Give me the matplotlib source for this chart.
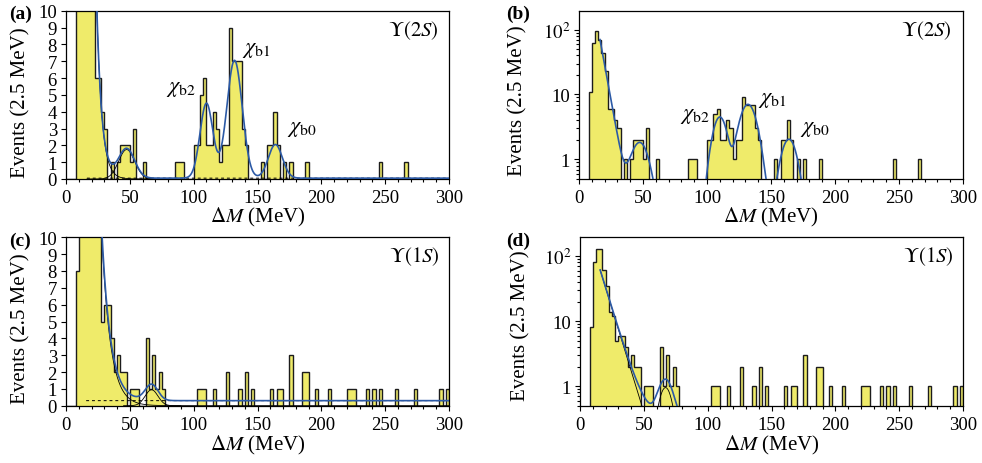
import numpy as np
import matplotlib
matplotlib.use('Agg')
import matplotlib.pyplot as plt
from matplotlib.ticker import MultipleLocator, FixedLocator, LogLocator, NullFormatter

plt.rcParams['font.family'] = 'serif'
plt.rcParams['font.serif'] = ['Liberation Serif', 'DejaVu Serif']
plt.rcParams['mathtext.fontset'] = 'stix'

# ---------------- data ----------------
BIN = 2.5
X_MAX = 300

# Upsilon(2S): left edges of non-empty bins and counts
u2_lo = [7.5, 10, 12.5, 15, 17.5, 20, 22.5, 25, 27.5, 30, 35, 40, 42.5, 45, 47.5,
         50, 52.5, 60, 85, 87.5, 90, 100, 102.5, 105, 107.5, 110, 112.5, 115, 117.5,
         120, 122.5, 125, 127.5, 130, 132.5, 135, 137.5, 140, 152.5, 157.5, 160,
         162.5, 165, 170, 175, 187.5, 245, 265]
u2_n = [11, 61, 96, 69, 44, 23, 6, 6, 4, 3, 1, 1, 2, 2, 2,
        1, 3, 1, 1, 1, 1, 2, 2, 5, 6, 2, 2, 4, 3,
        1, 2, 2, 9, 7, 7, 7, 3, 2, 1, 2, 2,
        4, 2, 1, 1, 1, 1, 1]

# Upsilon(1S)
u1_lo = [7.5, 10, 12.5, 15, 17.5, 20, 22.5, 25, 27.5, 30, 32.5, 35, 37.5, 40, 42.5,
         45, 50, 52.5, 55, 62.5, 65, 67.5, 70, 72.5, 75, 102.5, 105, 107.5, 115,
         125, 135, 140, 145, 160, 165, 167.5, 175, 185, 187.5, 195, 205, 220,
         222.5, 225, 235, 240, 245, 257.5, 272.5, 292.5, 297.5]
u1_n = [8, 81, 130, 128, 62, 35, 14, 12, 5, 6, 6, 4, 2, 3, 2,
        2, 1, 1, 1, 4, 1, 3, 1, 2, 1, 1, 1, 1, 1,
        2, 1, 2, 1, 1, 1, 1, 3, 2, 2, 1, 1, 1,
        1, 1, 1, 1, 1, 1, 1, 1, 1]

# fit parameters
u2_bg_norm, u2_bg_start, u2_bg_tau = 70.0, 16.4, 4.0
u2_peak_mu = [47.5, 110.0, 132.0, 164.0]
u2_peak_amp = [1.75, 4.45, 7.0, 2.0]
u2_peak_sig = [6.25, 5.0, 6.0, 5.5]
u2_flat = 0.05

u1_bg_norm, u1_bg_start, u1_bg_tau = 61.0, 15.8, 6.8
u1_peak_mu, u1_peak_amp, u1_peak_sig = 67.0, 0.95, 5.0
u1_flat = 0.3

peak_names = [r'$\chi_{\rm b2}$', r'$\chi_{\rm b1}$', r'$\chi_{\rm b0}$']
peak_lin_pos = [(90, 5.4), (149, 7.7), (185, 3.0)]
peak_log_pos = [(90.5, 4.75), (151, 8.4), (184, 3.0)]

# ---------------- helpers ----------------
YELLOW = '#efeb6a'
EDGE = '#1c1c1c'
BLUE = '#2c5aa6'

edges = np.arange(0, X_MAX + BIN, BIN)


def fill_counts(lo, n):
    c = np.zeros(len(edges) - 1)
    for l, v in zip(lo, n):
        c[int(round(l / BIN))] = v
    return c


def gauss(x, a, mu, s):
    return a * np.exp(-0.5 * ((x - mu) / s) ** 2)


def expo(x, n, x0, tau):
    return n * np.exp(-(x - x0) / tau)


u2_counts = fill_counts(u2_lo, u2_n)
u1_counts = fill_counts(u1_lo, u1_n)

W, H = 982, 464
fig = plt.figure(figsize=(W / 100, H / 100), dpi=100)


def box(l, t, r, b):
    return [l / W, 1 - b / H, (r - l) / W, (b - t) / H]


axA = fig.add_axes(box(66, 11.7, 449, 180))
axB = fig.add_axes(box(579, 11.7, 963, 180))
axC = fig.add_axes(box(66, 238.3, 449, 406.7))
axD = fig.add_axes(box(580, 238.3, 963, 406.7))


def draw_hist(ax, counts, log):
    base = 1e-3 if log else 0.0
    vals = np.where(counts > 0, counts, base) if log else counts
    ax.stairs(vals, edges, baseline=base, fill=True, facecolor=YELLOW,
              edgecolor='none', zorder=1)
    ax.stairs(vals, edges, baseline=base, fill=False, color=EDGE, lw=1.0,
              zorder=2)


def style(ax, log):
    ax.set_xlim(0, X_MAX)
    ax.xaxis.set_major_locator(MultipleLocator(50))
    ax.xaxis.set_minor_locator(MultipleLocator(10))
    if log:
        ax.set_yscale('log')
        ax.set_ylim(0.5, 195)
        ax.yaxis.set_major_locator(FixedLocator([1, 10, 100]))
        ax.set_yticklabels(['1', '10', r'$10^2$'])
        ax.yaxis.set_minor_locator(LogLocator(base=10, subs=np.arange(2, 10)))
        ax.yaxis.set_minor_formatter(NullFormatter())
    else:
        ax.set_ylim(0, 10)
        ax.yaxis.set_major_locator(MultipleLocator(1))
    ax.tick_params(which='both', direction='out', top=False, right=False,
                   labelsize=13.5, width=0.8)
    ax.tick_params(which='major', length=3.5)
    ax.tick_params(which='minor', length=2.2)
    ax.tick_params(axis='x', pad=4)
    ax.tick_params(axis='y', pad=3)
    for s in ax.spines.values():
        s.set_linewidth(0.9)
    ax.set_xlabel(r'$\Delta M$ (MeV)', fontsize=15)
    ax.set_ylabel('Events (2.5 MeV)', fontsize=15)


# ---------------- Upsilon(2S) ----------------
x2 = np.linspace(u2_bg_start, X_MAX, 3000)
bg2 = expo(x2, u2_bg_norm, u2_bg_start, u2_bg_tau)
g2 = [gauss(x2, a, m, s) for a, m, s in zip(u2_peak_amp, u2_peak_mu, u2_peak_sig)]
tot2 = bg2 + sum(g2) + u2_flat

for ax, log in ((axA, False), (axB, True)):
    draw_hist(ax, u2_counts, log)
    style(ax, log)
    ax.plot(x2, tot2, color=BLUE, lw=1.2, zorder=4)
    ax.text(0.972, 0.885, r'$\Upsilon(2S)$', transform=ax.transAxes,
            ha='right', va='center', fontsize=15)

# components on the linear panel
mlow = x2 < 70
axA.plot(x2[mlow], bg2[mlow], color='k', lw=0.6, zorder=3)
axA.plot(x2[mlow], g2[0][mlow], color='k', lw=0.6, zorder=3)
axA.plot(x2, np.full_like(x2, u2_flat), color='k', lw=0.7, ls=(0, (3, 3)),
         zorder=3)

for name, (px, py) in zip(peak_names, peak_lin_pos):
    axA.text(px, py, name, ha='center', va='center', fontsize=16)
for name, (px, py) in zip(peak_names, peak_log_pos):
    axB.text(px, py, name, ha='center', va='center', fontsize=16)

# ---------------- Upsilon(1S) ----------------
x1 = np.linspace(u1_bg_start, X_MAX, 3000)
bg1 = expo(x1, u1_bg_norm, u1_bg_start, u1_bg_tau)
g1 = gauss(x1, u1_peak_amp, u1_peak_mu, u1_peak_sig)
tot1 = bg1 + g1 + u1_flat

for ax, log in ((axC, False), (axD, True)):
    draw_hist(ax, u1_counts, log)
    style(ax, log)
    ax.plot(x1, bg1, color='k', lw=0.6, zorder=3)
    mg = (x1 > 45) & (x1 < 90)
    ax.plot(x1[mg], g1[mg], color='k', lw=0.6, zorder=3)
    ax.plot(x1, np.full_like(x1, u1_flat), color='k', lw=0.7,
            ls=(0, (3, 3)), zorder=3)
    ax.plot(x1, tot1, color=BLUE, lw=1.2, zorder=4)
    ax.text(0.975, 0.89, r'$\Upsilon(1S)$', transform=ax.transAxes,
            ha='right', va='center', fontsize=15)

# label positions
axA.yaxis.set_label_coords(-0.094, 0.46)
axB.yaxis.set_label_coords(-0.133, 0.47)
axC.yaxis.set_label_coords(-0.094, 0.464)
axD.yaxis.set_label_coords(-0.13, 0.48)
for ax in (axA, axB):
    ax.xaxis.set_label_coords(0.5, -0.155)
for ax in (axC, axD):
    ax.xaxis.set_label_coords(0.5, -0.16)

for lab, (px, py) in zip(['(a)', '(b)', '(c)', '(d)'],
                         [(9, 6), (506, 6), (9, 233), (506, 233)]):
    fig.text(px / W, 1 - py / H, lab, ha='left', va='top', fontsize=14,
             fontweight='bold')

fig.savefig('out.png', dpi=100)
